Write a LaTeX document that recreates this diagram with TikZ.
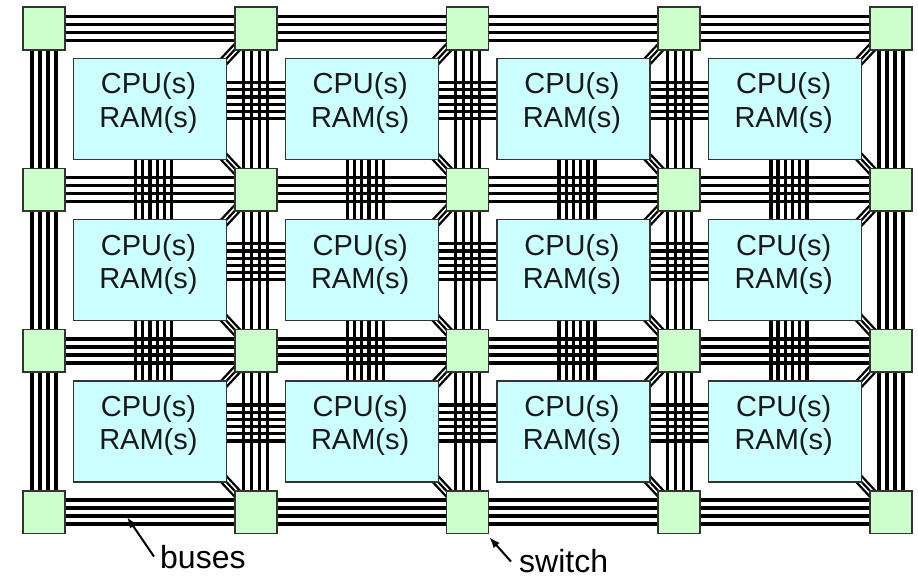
\documentclass[tikz,border=0pt]{standalone}
\usepackage{fontspec}
\setmainfont{Liberation Sans}
\usetikzlibrary{calc,backgrounds,arrows.meta}
\definecolor{boxfill}{HTML}{CCFFFF}
\definecolor{swfill}{HTML}{CCFFCC}
\definecolor{edgecol}{HTML}{333333}
\begin{document}
\begin{tikzpicture}[x=1pt,y=-1pt,
  switchbox/.style={draw=edgecol, line width=1.6pt, fill=swfill, minimum width=42pt, minimum height=42.5pt, inner sep=0pt},
  cpubox/.style={draw=edgecol, line width=1.2pt, fill=boxfill, minimum width=153pt, minimum height=101pt, inner sep=0pt},
  cputext/.style={align=center, font=\fontsize{29}{33.5}\selectfont, text=black!90, inner sep=0pt},
  busline/.style={line width=3.3pt, black},
  diagline/.style={line width=2.2pt, black, shorten <=-10pt, shorten >=-10pt},
  lbltext/.style={font=\fontsize{32}{36}\selectfont, inner sep=0pt, anchor=base west},
  pointer/.style={line width=2pt, -{Latex[length=11pt,width=8pt]}}
]
\useasboundingbox (0,0) rectangle (918,579);
% switches
\foreach \i in {0,...,4} \foreach \j in {0,...,3}
  \node[switchbox] (s-\i-\j) at ({44+211.75*\i},{28.5+161.2*\j}) {};
% cpu boxes
\foreach \i in {0,...,3} \foreach \j in {0,...,2} {
  \node[cpubox] (b-\i-\j) at ({149.9+211.75*\i},{109.1+161.2*\j}) {};
  \node[cputext] (t-\i-\j) at ($(b-\i-\j.center)+(-1.5,-6)$) {CPU(s)\\RAM(s)};
}
\begin{scope}[on background layer]
  % horizontal switch buses
  \foreach \i/\n in {0/1,1/2,2/3,3/4} \foreach \j in {0,...,3} \foreach \o in {-12,-4,4,12}
    \draw[busline] ($(s-\i-\j.center)+(0,\o)$) -- ($(s-\n-\j.center)+(0,\o)$);
  % vertical switch buses
  \foreach \i in {0,...,4} \foreach \j/\m in {0/1,1/2,2/3} \foreach \o in {-12,-4,4,12}
    \draw[busline] ($(s-\i-\j.center)+(\o,0)$) -- ($(s-\i-\m.center)+(\o,0)$);
  % horizontal box buses
  \foreach \i/\n in {0/1,1/2,2/3} \foreach \j in {0,1,2} \foreach \o in {-18,-10.8,-3.6,3.6,10.8,18}
    \draw[busline] ($(b-\i-\j.center)+({0},{\o-8.5})$) -- ($(b-\n-\j.center)+({0},{\o-8.5})$);
  % vertical box buses
  \foreach \i in {0,...,3} \foreach \j/\m in {0/1,1/2} \foreach \o in {-18,-10.8,-3.6,3.6,10.8,18}
    \draw[busline] ($(b-\i-\j.center)+({\o+3.7},{0})$) -- ($(b-\i-\m.center)+({\o+3.7},{0})$);
  % diagonal links
  \foreach \i/\n in {0/1,1/2,2/3,3/4} \foreach \j/\m in {0/1,1/2,2/3} \foreach \o in {-4,0,4} {
    \draw[diagline] ($(b-\i-\j.north east)+({\o*0.7071},{\o*0.7071})$) -- ($(s-\n-\j.south west)+({\o*0.7071},{\o*0.7071})$);
    \draw[diagline] ($(b-\i-\j.south east)+({\o*0.7071},{-\o*0.7071})$) -- ($(s-\n-\m.north west)+({\o*0.7071},{-\o*0.7071})$);
  }
\end{scope}
% labels
\node[lbltext] (buses) at (160,568) {buses};
\node[lbltext] (switch) at (519,572) {switch};
\coordinate (busptr) at (127,517);
\coordinate (swptr) at ($(s-2-3.south east)+(0,3)$);
\draw[pointer] ($(buses.west)+(-6,0)$) -- (busptr);
\draw[pointer] ($(switch.west)+(-8,1)$) -- (swptr);
\end{tikzpicture}
\end{document}
